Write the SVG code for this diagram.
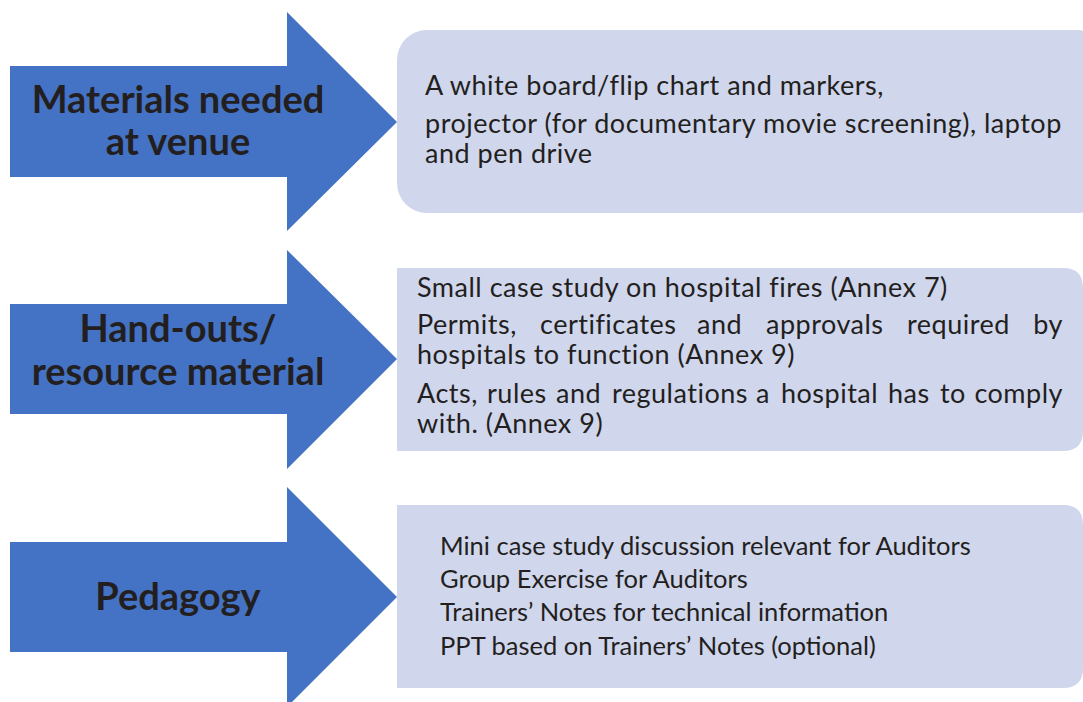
<svg xmlns="http://www.w3.org/2000/svg" width="1083" height="702" viewBox="0 0 1083 702">
<style>
.arrow{fill:#4472C4;}
.box{fill:#D0D6EC;}
.title{font-family:Lato,"Liberation Sans",sans-serif;font-weight:bold;font-size:38px;fill:#231F20;text-anchor:middle;}
.body{font-family:Lato,"Liberation Sans",sans-serif;font-size:27px;letter-spacing:0.5px;fill:#231F20;}
.body3{font-family:Lato,"Liberation Sans",sans-serif;font-size:25.5px;fill:#231F20;}
.end{text-anchor:end;}
</style>
<rect width="1083" height="702" fill="#ffffff"/>
<g id="node-materials">
<polygon class="arrow" points="10,66 287,66 287,12 397,122 287,231 287,177 10,177"/>
<text class="title" x="178" y="113">Materials needed</text>
<text class="title" x="178" y="155">at venue</text>
</g>
<g id="box-materials">
<rect class="box" x="397" y="30" width="710" height="183" rx="30" ry="30"/>
<text class="body" x="425" y="95">A white board/flip chart and markers,</text>
<text class="body" x="425" y="133">projector (for documentary movie screening), laptop</text>
<text class="body" x="425" y="163">and pen drive</text>
</g>
<g id="node-handouts">
<polygon class="arrow" points="10,304 287,304 287,250 397,359 287,469 287,414 10,414"/>
<text class="title" x="178" y="342">Hand-outs/</text>
<text class="title" x="178" y="385">resource material</text>
</g>
<g id="box-handouts">
<path class="box" d="M397,268 H1063 Q1083,268 1083,288 V431 Q1083,451 1063,451 H397 Z"/>
<text class="body" x="417" y="297">Small case study on hospital fires (Annex 7)</text>
<text class="body" y="334"><tspan x="417">Permits,</tspan><tspan x="540">certificates</tspan><tspan x="697">and</tspan><tspan x="766">approvals</tspan><tspan x="907">required</tspan></text>
<text class="body end" x="1063" y="334">by</text>
<text class="body" x="417" y="364">hospitals to function (Annex 9)</text>
<text class="body" y="403"><tspan x="417">Acts,</tspan><tspan x="487">rules</tspan><tspan x="556">and</tspan><tspan x="612">regulations</tspan><tspan x="756">a</tspan><tspan x="781">hospital</tspan><tspan x="888">has</tspan><tspan x="940">to</tspan></text>
<text class="body end" x="1063" y="403">comply</text>
<text class="body" x="417" y="433">with. (Annex 9)</text>
</g>
<g id="node-pedagogy">
<polygon class="arrow" points="10,542 287,542 287,487 397,597 287,707 287,652 10,652"/>
<text class="title" x="178" y="610">Pedagogy</text>
</g>
<g id="box-pedagogy">
<path class="box" d="M397,505 H1063 Q1083,505 1083,525 V668 Q1083,688 1063,688 H397 Z"/>
<text class="body3" x="440" y="555">Mini case study discussion relevant for Auditors</text>
<text class="body3" x="440" y="588">Group Exercise for Auditors</text>
<text class="body3" x="440" y="621">Trainers’ Notes for technical information</text>
<text class="body3" x="440" y="655">PPT based on Trainers’ Notes (optional)</text>
</g>
<g id="connectors"></g>
</svg>
